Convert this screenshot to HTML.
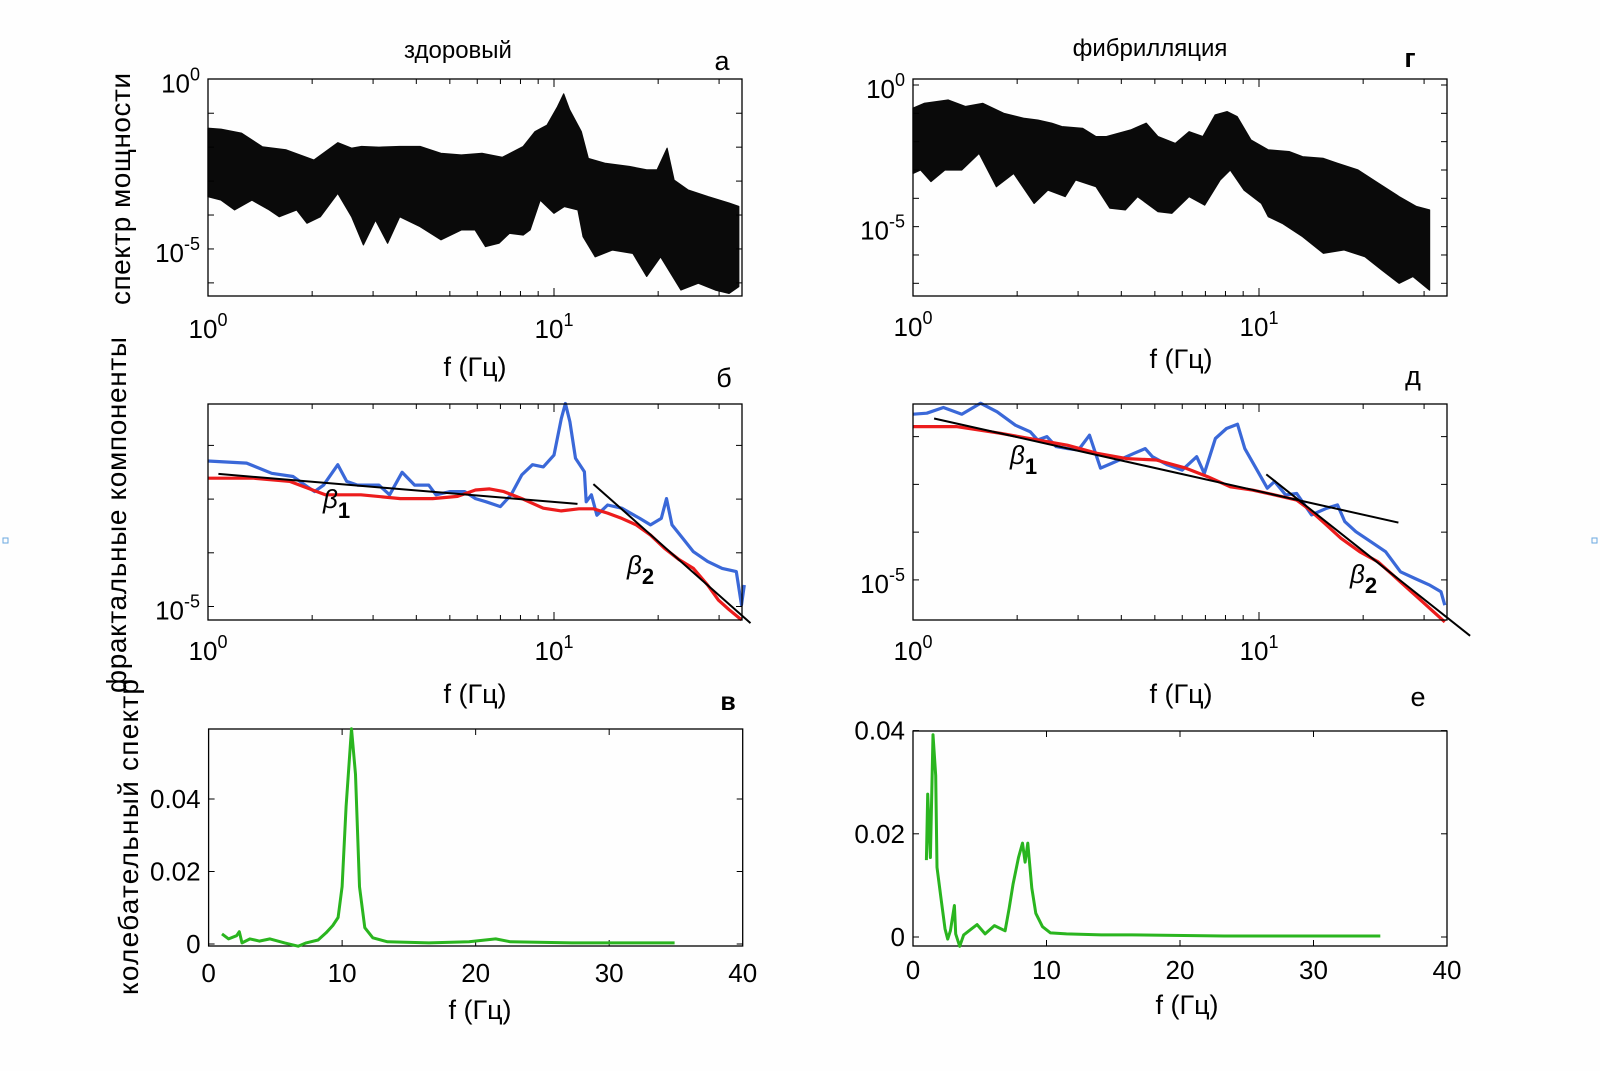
<!DOCTYPE html>
<html><head><meta charset="utf-8"><style>
html,body{margin:0;padding:0;background:#fff;}
svg{display:block;font-family:"Liberation Sans",Arial,sans-serif;}
</style></head><body>
<svg id="fig" width="1600" height="1071" viewBox="0 0 1600 1071" xmlns="http://www.w3.org/2000/svg">
<rect x="0" y="0" width="1600" height="1071" fill="#fefefe"/>
<text x="458" y="58" font-size="24" text-anchor="middle">здоровый</text>
<text x="1150" y="56" font-size="24" text-anchor="middle">фибрилляция</text>
<text x="722" y="70" font-size="27" text-anchor="middle">а</text>
<text x="1410" y="67" font-size="27" text-anchor="middle" font-weight="bold">г</text>
<text x="724" y="387" font-size="27" text-anchor="middle">б</text>
<text x="1413" y="385" font-size="27" text-anchor="middle">д</text>
<text x="728" y="710" font-size="25" text-anchor="middle" font-weight="bold">в</text>
<text x="1418" y="706" font-size="27" text-anchor="middle">е</text>
<text transform="translate(130,189) rotate(-90)" font-size="28" text-anchor="middle" textLength="232">спектр мощности</text>
<text transform="translate(126,515) rotate(-90)" font-size="28" text-anchor="middle" textLength="356">фрактальные компоненты</text>
<text transform="translate(138,837) rotate(-90)" font-size="28" text-anchor="middle" textLength="316">колебательный спектр</text>
<rect x="3" y="538" width="5" height="5" fill="none" stroke="#6aa8e0" stroke-width="1"/>
<rect x="1592" y="538" width="5" height="5" fill="none" stroke="#6aa8e0" stroke-width="1"/>
</svg>
<script>
// ---------- DATA ----------
// Panel a (healthy) power spectrum bundle envelopes: log10 f, log10 power
const aUpperLogF=[0,.038,.097,.157,.226,.306,.375,.415,.444,.494,.554,.613,.673,.732,.792,.851,.911,.945,.980,1.01,1.028,1.045,1.079,1.099,1.149,1.218,1.268,1.298,1.327,1.347,1.387,1.446,1.506,1.534];
const aUpperLogP=[-1.44,-1.47,-1.59,-1.99,-2.08,-2.38,-1.87,-2.03,-1.98,-2.0,-1.98,-1.98,-2.18,-2.23,-2.18,-2.30,-1.98,-1.54,-1.35,-0.81,-0.43,-0.90,-1.54,-2.33,-2.48,-2.57,-2.67,-2.67,-2.03,-2.97,-3.26,-3.46,-3.65,-3.75];
const aLowerLogF=[0,.038,.077,.127,.177,.206,.256,.286,.325,.375,.415,.449,.484,.519,.554,.613,.673,.732,.772,.802,.841,.871,.911,.931,.960,1.0,1.03,1.069,1.084,1.119,1.169,1.228,1.268,1.308,1.367,1.417,1.466,1.506,1.534];
const aLowerLogP=[-3.46,-3.56,-3.85,-3.56,-3.85,-4.05,-3.85,-4.24,-4.05,-3.36,-4.05,-4.88,-4.15,-4.83,-4.05,-4.34,-4.73,-4.44,-4.44,-4.93,-4.83,-4.54,-4.59,-4.44,-3.56,-3.95,-3.75,-3.85,-4.64,-5.23,-5.03,-5.13,-5.81,-5.23,-6.21,-6.01,-6.21,-6.31,-6.11];
// Panel g (fibrillation) bundle envelopes
const gUpperLogF=[0,.032,.102,.152,.202,.262,.322,.361,.401,.430,.490,.529,.559,.629,.674,.708,.758,.798,.838,.873,.908,.937,.977,1.027,1.087,1.126,1.186,1.226,1.286,1.345,1.405,1.455,1.493];
const gUpperLogP=[-0.82,-0.65,-0.53,-0.76,-0.65,-1.0,-1.18,-1.24,-1.35,-1.47,-1.53,-1.82,-1.82,-1.59,-1.35,-1.82,-2.06,-1.65,-1.82,-1.06,-0.94,-1.12,-1.94,-2.29,-2.35,-2.53,-2.59,-2.76,-3.0,-3.47,-3.94,-4.29,-4.41];
const gLowerLogF=[0,.022,.052,.092,.141,.191,.241,.291,.350,.390,.440,.470,.529,.569,.614,.649,.708,.748,.798,.843,.888,.917,.957,1.007,1.027,1.067,1.126,1.186,1.246,1.306,1.355,1.405,1.445,1.493];
const gLowerLogP=[-3.12,-3.0,-3.41,-3.0,-3.0,-2.41,-3.59,-3.12,-4.18,-3.71,-3.94,-3.35,-3.59,-4.35,-4.41,-3.94,-4.47,-4.53,-3.94,-4.24,-3.35,-3.0,-3.71,-4.18,-4.65,-4.88,-5.35,-5.94,-5.82,-6.06,-6.53,-7.0,-6.76,-7.24];
// Panel b fractal components
const bBlueLogF=[0,.1116,.184,.246,.287,.308,.334,.375,.401,.432,.463,.494,.525,.561,.597,.638,.659,.700,.742,.773,.804,.845,.876,.907,.938,.969,1.0,1.021,1.033,1.046,1.062,1.088,1.093,1.108,1.124,1.155,1.196,1.248,1.279,1.31,1.325,1.341,1.372,1.403,1.444,1.486,1.527,1.542,1.55];
const bBlueLogP=[-2.29,-2.33,-2.52,-2.58,-2.77,-2.86,-2.74,-2.36,-2.67,-2.74,-2.74,-2.74,-2.92,-2.50,-2.74,-2.74,-2.92,-2.86,-2.86,-2.99,-3.05,-3.14,-2.92,-2.55,-2.36,-2.40,-2.18,-1.50,-1.22,-1.56,-2.24,-2.49,-3.05,-2.92,-3.30,-3.11,-3.17,-3.36,-3.48,-3.36,-2.99,-3.48,-3.73,-3.98,-4.16,-4.29,-4.35,-4.97,-4.60];
const bRedLogF=[0,.132,.236,.339,.442,.556,.649,.721,.773,.814,.855,.907,.969,1.021,1.072,1.114,1.155,1.196,1.238,1.279,1.32,1.362,1.403,1.444,1.475,1.506,1.542];
const bRedLogP=[-2.61,-2.61,-2.67,-2.92,-2.92,-2.99,-2.99,-2.95,-2.83,-2.81,-2.86,-2.99,-3.17,-3.22,-3.18,-3.18,-3.26,-3.36,-3.48,-3.67,-3.92,-4.13,-4.29,-4.60,-4.88,-5.06,-5.25];
const bFit1LogF=[0.03,1.068], bFit1LogP=[-2.53,-3.09];
const bFit2LogF=[1.114,1.568], bFit2LogP=[-2.72,-5.31];
// Panel d fractal components
const dBlueLogF=[0,.040,.088,.141,.195,.243,.296,.339,.360,.387,.414,.446,.478,.510,.542,.574,.596,.639,.671,.692,.735,.778,.820,.842,.874,.906,.938,.959,.991,1.024,1.045,1.077,1.109,1.152,1.195,1.227,1.248,1.280,1.323,1.366,1.409,1.451,1.494,1.526,1.537];
const dBlueLogP=[-1.53,-1.51,-1.39,-1.53,-1.30,-1.48,-1.76,-1.90,-2.07,-2.00,-2.21,-2.25,-2.28,-1.97,-2.66,-2.56,-2.49,-2.35,-2.25,-2.42,-2.59,-2.70,-2.42,-2.77,-2.04,-1.83,-1.74,-2.25,-2.66,-3.08,-2.94,-3.22,-3.19,-3.64,-3.50,-3.43,-3.78,-3.99,-4.20,-4.41,-4.83,-4.97,-5.11,-5.25,-5.53];
const dRedLogF=[0,.125,.253,.36,.446,.532,.617,.703,.788,.852,.917,.981,1.045,1.109,1.141,1.184,1.237,1.291,1.344,1.387,1.43,1.473,1.505,1.537];
const dRedLogP=[-1.79,-1.79,-1.93,-2.07,-2.18,-2.35,-2.46,-2.49,-2.66,-2.84,-3.05,-3.12,-3.22,-3.33,-3.50,-3.78,-4.13,-4.41,-4.62,-4.90,-5.18,-5.46,-5.67,-5.88];
const dFit1LogF=[0.061,1.403], dFit1LogP=[-1.62,-3.80];
const dFit2LogF=[1.021,1.61], dFit2LogP=[-2.79,-6.17];
// Panel v oscillatory spectrum (healthy)
const vFreq=[1.0,1.5,2.1,2.3,2.5,3.1,3.8,4.6,5.7,6.7,7.3,8.2,8.8,9.3,9.7,10.0,10.3,10.7,11.0,11.3,11.7,12.3,13.4,16.5,19.5,21.5,22.6,27.2,34.9];
const vPower=[0.0028,0.0014,0.0023,0.0034,0.0003,0.0014,0.0008,0.0014,0.0003,-0.0006,0.0003,0.0011,0.0031,0.0051,0.0073,0.0158,0.038,0.0594,0.0468,0.0158,0.0045,0.0017,0.0006,0.0003,0.0006,0.0014,0.0006,0.0003,0.0003];
// Panel e oscillatory spectrum (fibrillation)
const eFreq=[1.0,1.1,1.3,1.5,1.7,1.8,2.1,2.4,2.6,2.8,3.1,3.2,3.5,3.8,4.4,4.8,5.4,6.1,6.9,7.2,7.5,7.9,8.2,8.4,8.6,8.9,9.2,9.7,10.3,11.5,14.1,16.4,23.3,35];
const ePower=[0.0149,0.0277,0.0154,0.0392,0.0313,0.0135,0.0075,0.0016,-0.0004,0.0012,0.0061,0.0006,-0.0018,0.0004,0.0016,0.0024,0.0006,0.0022,0.0012,0.0055,0.0103,0.0154,0.0182,0.0145,0.0182,0.0095,0.0046,0.0020,0.0008,0.0006,0.0004,0.0004,0.0002,0.0002];
const linXTicks=[0,10,20,30,40];
const linYTicks=[0,0.02,0.04];
const linYTickLabels=["0","0.02","0.04"];

// ---------- DRAW ----------
const NS="http://www.w3.org/2000/svg";
const svg=document.getElementById('fig');
function mk(tag,attrs,parent){const e=document.createElementNS(NS,tag);for(const k in attrs)e.setAttribute(k,attrs[k]);(parent||svg).appendChild(e);return e;}
function logX(p){return lf=>p.x0+lf*p.dec;}
function pts(xs,ys,fx,fy){return xs.map((x,i)=>fx(x).toFixed(1)+','+fy(ys[i]).toFixed(1)).join(' ');}
function powLabel(x,y,exp,anchor,name){
  const t=mk('text',{x:x,y:y,'font-size':26,'text-anchor':anchor});
  
  
  t.appendChild(document.createTextNode('10'));
  const s=mk('tspan',{dy:-12,'font-size':18},t);s.textContent=exp;
}
function frame(p,name){
  const r=mk('rect',{x:p.x0l,y:p.top,width:p.right-p.x0l,height:p.bottom-p.top,fill:'none',stroke:'#000','stroke-width':1.3});
  
  
}
function tick(x1,y1,x2,y2){mk('line',{x1:x1,y1:y1,x2:x2,y2:y2,stroke:'#000','stroke-width':1});}
function logPanel(p,id){
  frame(p,id+'-axes-box');
  const fx=logX(p);
  const minor=[1,2,3,4,5,6,7,8,9,10,20,30];
  minor.forEach(m=>{const x=fx(Math.log10(m));if(x>p.x0l+1&&x<p.right-1){const L=(m===10)?8:5;tick(x,p.bottom,x,p.bottom-L);tick(x,p.top,x,p.top+L);}});
  p.yTicks.forEach(v=>{const y=p.fy(v);if(y>p.top+1&&y<p.bottom-1){tick(p.x0l,y,p.x0l+6,y);tick(p.right,y,p.right-6,y);}});
  powLabel(fx(0),p.xlabY,'0','middle',id+'-x-tick-1');
  powLabel(fx(1),p.xlabY,'1','middle',id+'-x-tick-10');
  p.yLabels.forEach(v=>powLabel(p.x0l-8,p.fy(v)+13,String(v),'end',id+'-y-tick-'+v));
}
// panels
const pa={x0l:208,x0:208,dec:346,right:742,top:79,bottom:296,fy:v=>79.3-v*33.93,yTicks:[0,-1,-2,-3,-4,-5,-6],yLabels:[0,-5],xlabY:338};
const pg={x0l:913,x0:913,dec:346,right:1447,top:79,bottom:296,fy:v=>85-v*28.33,yTicks:[0,-1,-2,-3,-4,-5,-6,-7],yLabels:[0,-5],xlabY:336};
const pb={x0l:208,x0:208,dec:346,right:742,top:404,bottom:620,fy:v=>338-v*53.7,yTicks:[-2,-3,-4,-5],yLabels:[-5],xlabY:660};
const pd={x0l:913,x0:913,dec:346,right:1447,top:404,bottom:620,fy:v=>341.1-v*47.76,yTicks:[-2,-3,-4,-5],yLabels:[-5],xlabY:660};

function bundle(p,uf,up,lf,lp,name){
  const fx=logX(p);
  const poly=pts(uf,up,fx,p.fy)+' '+pts(lf.slice().reverse(),lp.slice().reverse(),fx,p.fy);
  const g=mk('polygon',{points:poly,fill:'#0a0a0a',stroke:'#0a0a0a','stroke-width':1.2,'stroke-linejoin':'round'});
  
  
}
function line(p,xs,ys,color,w,name){
  const fx=logX(p);
  const l=mk('polyline',{points:pts(xs,ys,fx,p.fy),fill:'none',stroke:color,'stroke-width':w,'stroke-linejoin':'round'});
  
  
}
bundle(pa,aUpperLogF,aUpperLogP,aLowerLogF,aLowerLogP,'healthy-power-spectra');
logPanel(pa,'panel-a');
bundle(pg,gUpperLogF,gUpperLogP,gLowerLogF,gLowerLogP,'fibrillation-power-spectra');
logPanel(pg,'panel-g');
line(pb,bBlueLogF,bBlueLogP,'#3a68d8',3.2,'healthy-fractal-blue');
line(pb,bRedLogF,bRedLogP,'#ec1c1c',3.2,'healthy-fractal-red');
line(pb,bFit1LogF,bFit1LogP,'#000',2,'healthy-fit-beta1');
line(pb,bFit2LogF,bFit2LogP,'#000',2,'healthy-fit-beta2');
logPanel(pb,'panel-b');
line(pd,dBlueLogF,dBlueLogP,'#3a68d8',3.2,'fibrillation-fractal-blue');
line(pd,dRedLogF,dRedLogP,'#ec1c1c',3.2,'fibrillation-fractal-red');
line(pd,dFit1LogF,dFit1LogP,'#000',2,'fibrillation-fit-beta1');
line(pd,dFit2LogF,dFit2LogP,'#000',2,'fibrillation-fit-beta2');
logPanel(pd,'panel-d');

function linPanel(p,xs,ys,id){
  frame({x0l:p.left,right:p.right,top:p.top,bottom:p.bottom},id+'-axes-box');
  const fx=f=>p.left+f/40*(p.right-p.left);
  const fy=v=>p.y0-v*p.k;
  linXTicks.forEach(t=>{const x=fx(t);if(t>0&&t<40){tick(x,p.bottom,x,p.bottom-6);tick(x,p.top,x,p.top+6);}
    const tl=mk('text',{x:x,y:p.xlabY,'font-size':26,'text-anchor':'middle'});
    
    
    tl.textContent=String(t);});
  linYTicks.forEach((t,i)=>{const y=fy(t);tick(p.left,y,p.left+6,y);tick(p.right,y,p.right-6,y);
    const tl=mk('text',{x:p.left-8,y:y+9,'font-size':26,'text-anchor':'end'});
    
    
    tl.textContent=linYTickLabels[i];});
  const l=mk('polyline',{points:pts(xs,ys,fx,fy),fill:'none',stroke:'#2ab51f','stroke-width':3,'stroke-linejoin':'round'});
  
  
}
linPanel({left:208.6,right:742.7,top:729,bottom:946,y0:944,k:3625,xlabY:982},vFreq,vPower,'panel-v');
linPanel({left:913,right:1447,top:731,bottom:946,y0:937,k:5160,xlabY:979},eFreq,ePower,'panel-e');

// beta labels & x titles
function txt(x,y,s,size,name,extra){const t=mk('text',Object.assign({x:x,y:y,'font-size':size,'text-anchor':'middle'},extra||{}));t.textContent=s;return t;}
function beta(x,y,sub,name){const t=mk('text',{x:x,y:y,'font-size':26,'font-style':'italic'});t.appendChild(document.createTextNode('β'));const s=mk('tspan',{dy:10,'font-size':22,'font-style':'normal','font-weight':'bold'},t);s.textContent=sub;}
beta(323,508,'1','label-beta1-healthy');
beta(627,574,'2','label-beta2-healthy');
beta(1010,464,'1','label-beta1-fibrillation');
beta(1350,583,'2','label-beta2-fibrillation');
txt(475,376,'f (Гц)',27,'x-axis-title-a');
txt(1181,368,'f (Гц)',27,'x-axis-title-g');
txt(475,703,'f (Гц)',27,'x-axis-title-b');
txt(1181,703,'f (Гц)',27,'x-axis-title-d');
txt(480,1019,'f (Гц)',27,'x-axis-title-v');
txt(1187,1014,'f (Гц)',27,'x-axis-title-e');
</script>
</body></html>
